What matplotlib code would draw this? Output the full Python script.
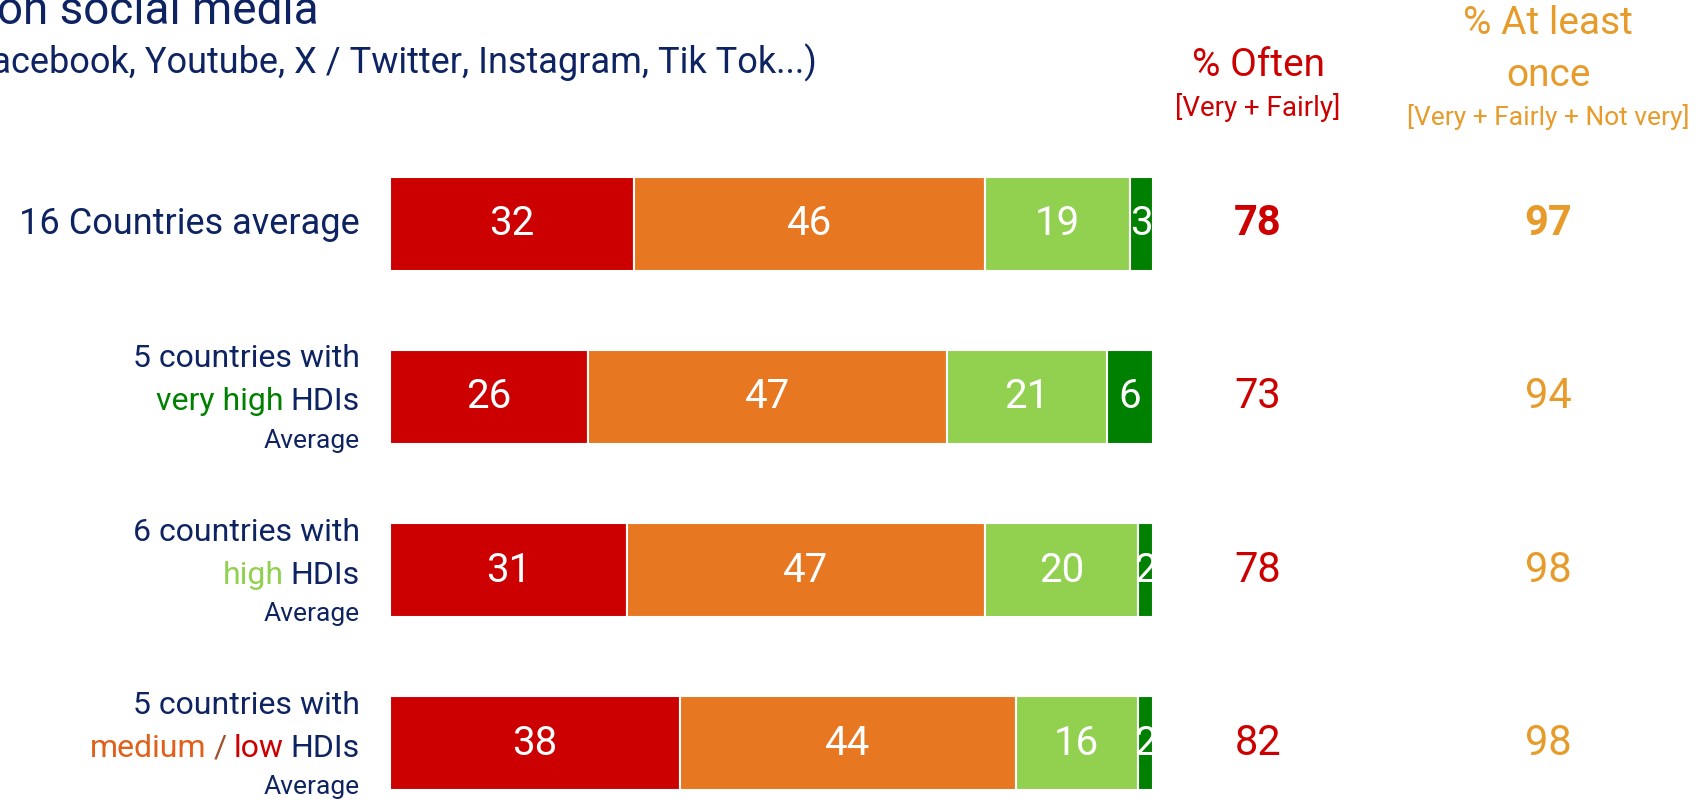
import numpy as np
import matplotlib
matplotlib.use("Agg")
import matplotlib.pyplot as plt
from matplotlib.transforms import blended_transform_factory

plt.rcParams['font.family'] = ['Roboto', 'DejaVu Sans']

# données
groupes = ["16 Countries average", "very high", "high", "medium / low"]
tres = [32, 26, 31, 38]
assez = [46, 47, 47, 44]
pas_tres = [19, 21, 20, 16]
jamais = [3, 6, 2, 2]
souvent = [78, 73, 78, 82]
au_moins_une_fois = [97, 94, 98, 98]

navy = '#0E2361'
rouge = '#CC0000'
orange = '#E87722'
vert_clair = '#92D050'
vert = '#008000'
or_ = '#E69B2A'

W, H = 1708, 802
fig = plt.figure(figsize=(W / 100, H / 100), dpi=100)

def fx(x):
    return x / W

def fy(y):
    return 1 - y / H

# axe des barres : 0..100 entre x=390 et x=1153
ax = fig.add_axes([fx(390), 0, (1153 - 390) / W, 1])
pas = 173.3
ax.set_ylim((H - 223.5) / pas, -223.5 / pas)
ax.set_xlim(0, 100)
ax.axis('off')

y = np.arange(len(groupes))
h = 94 / pas
gauche = np.zeros(len(groupes))
for vals, couleur in [(tres, rouge), (assez, orange), (pas_tres, vert_clair), (jamais, vert)]:
    vals = np.array(vals)
    ax.barh(y, vals, left=gauche, height=h, color=couleur, edgecolor='white', linewidth=1.5)
    for i, v in enumerate(vals):
        ax.text(gauche[i] + v / 2, y[i], str(v), ha='center', va='center',
                color='white', fontsize=29)
    gauche += vals

# colonnes de droite
tr = blended_transform_factory(fig.transFigure, ax.transData)
for i in range(len(groupes)):
    poids = 'bold' if i == 0 else 'normal'
    ax.text(fx(1258), y[i], str(souvent[i]), transform=tr, ha='center', va='center',
            color=rouge, fontsize=30, fontweight=poids)
    ax.text(fx(1548), y[i], str(au_moins_une_fois[i]), transform=tr, ha='center', va='center',
            color=or_, fontsize=30, fontweight=poids)

# étiquettes de gauche
xl = fx(360)
ax.text(xl, y[0], groupes[0], transform=tr, ha='right', va='center', color=navy, fontsize=26)

lignes1 = ["5 countries with", "6 countries with", "5 countries with"]
morceaux = [
    [("very high", vert)],
    [("high", vert_clair)],
    [("medium", '#E0601B'), ("/", '#A0522D'), ("low", rouge)],
]
for k in range(3):
    yi = y[k + 1]
    ax.text(xl, yi - 38 / pas, lignes1[k], transform=tr, ha='right', va='center',
            color=navy, fontsize=23)
    t = ax.text(xl, yi + 5 / pas, "HDIs", transform=tr, ha='right', va='center',
                color=navy, fontsize=23)
    for mot, c in reversed(morceaux[k]):
        t = ax.annotate(mot, xy=(0, 0.5), xycoords=t, xytext=(-5, 0),
                        textcoords='offset points', ha='right', va='center',
                        color=c, fontsize=23)
    ax.text(xl, yi + 44 / pas, "Average", transform=tr, ha='right', va='center',
            color=navy, fontsize=19)

# titre
fig.text(fx(319), fy(11), "on social media", ha='right', va='center', color=navy, fontsize=33)
fig.text(fx(817), fy(63), "(Facebook, Youtube, X / Twitter, Instagram, Tik Tok...)",
         ha='right', va='center', color=navy, fontsize=26)

# en-têtes
fig.text(fx(1258), fy(65), "% Often", ha='center', va='center', color=rouge, fontsize=28)
fig.text(fx(1258), fy(107), "[Very + Fairly]", ha='center', va='center', color=rouge, fontsize=20)
fig.text(fx(1548), fy(24), "% At least", ha='center', va='center', color=or_, fontsize=28)
fig.text(fx(1548), fy(76), "once", ha='center', va='center', color=or_, fontsize=28)
fig.text(fx(1548), fy(117), "[Very + Fairly + Not very]", ha='center', va='center',
         color=or_, fontsize=19)

fig.savefig('out.png', dpi=100)
